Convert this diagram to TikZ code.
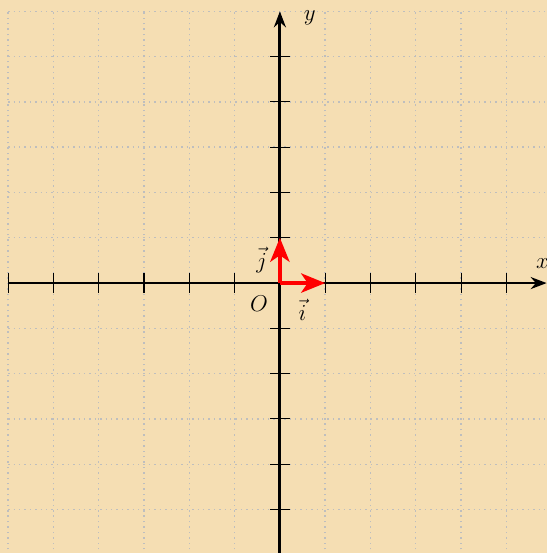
\documentclass[tikz,border=0pt]{standalone}
\usetikzlibrary{arrows.meta}
\definecolor{bg}{RGB}{245,222,179}
\definecolor{gridc}{RGB}{190,190,190}
\begin{document}
\begin{tikzpicture}[
  gridline/.style={gridc, line width=0.9pt, dash pattern=on 0.9pt off 2.5pt},
  axis/.style={line width=1.8pt, -{Stealth[length=10pt,width=7.5pt]}},
  tickmark/.style={line width=0.7pt},
  vec/.style={red, line width=3pt, -{Stealth[length=15pt,width=12pt,inset=4pt]}},
  lab/.style={font=\Large, inner sep=0pt}
]
\fill[bg] (-6.18,-5.96) rectangle (5.89,6.25);
\useasboundingbox (-6.18,-5.96) rectangle (5.89,6.25);
\begin{scope}
\clip (-6.18,-5.96) rectangle (5.89,6.25);
\draw[gridline] (-6,-6) grid (6,6);
\coordinate (O) at (0,0);
\coordinate (xs) at (-6,0);
\coordinate (xe) at (5.89,0);
\coordinate (ys) at (0,-6);
\coordinate (ye) at (0,6);
\draw[axis] (xs) -- (xe);
\draw[axis] (ys) -- (ye);
\foreach \k in {-6,...,-1,1,2,3,4,5}
  \draw[tickmark] (\k,-0.22) -- (\k,0.22);
\foreach \k in {-5,...,-1,1,2,3,4,5}
  \draw[tickmark] (-0.22,\k) -- (0.22,\k);
\coordinate (I) at (1,0);
\coordinate (J) at (0,1);
\draw[vec] (O) -- (I);
\draw[vec] (O) -- (J);
\node[lab] (ilab) at (0.5,-0.6) {$\vec{i}$};
\node[lab] (jlab) at (-0.4,0.5) {$\vec{j}$};
\node[lab] (olab) at (-0.46,-0.46) {$O$};
\node[lab] (xlab) at (5.8,0.44) {$x$};
\node[lab] (ylab) at (0.66,5.85) {$y$};
\end{scope}
\end{tikzpicture}
\end{document}
